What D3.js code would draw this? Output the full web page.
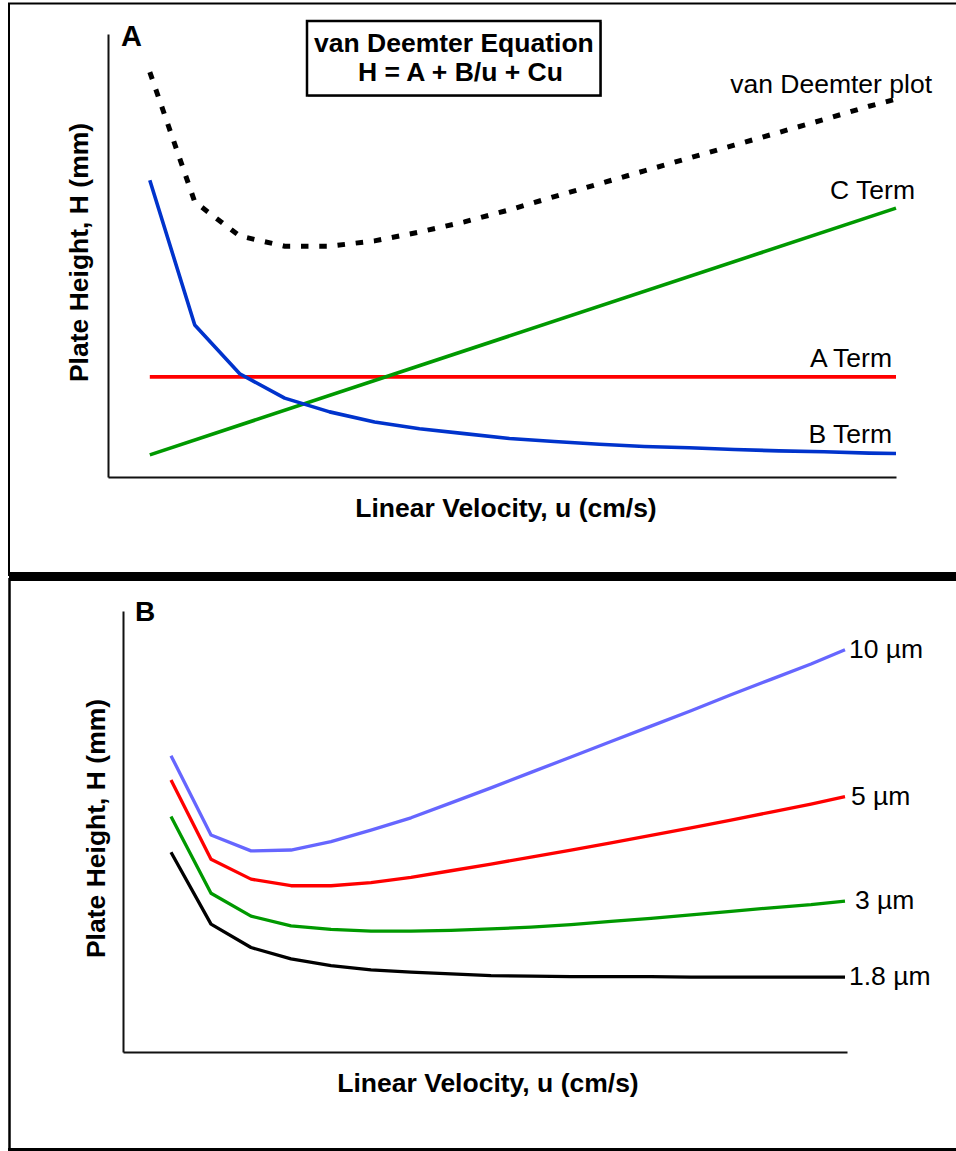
<!DOCTYPE html>
<html>
<head>
<meta charset="utf-8">
<script src="https://cdn.jsdelivr.net/npm/d3@7"></script>
<style>
  html, body { margin: 0; padding: 0; background: #fff; }
  svg { display: block; }
  text { font-family: "Liberation Sans", Arial, Helvetica, sans-serif; fill: #000; }
</style>
</head>
<body>
<svg id="chart" width="956" height="1151"></svg>
<script>
// ---- Panel A: terms of the van Deemter equation ----
const topVelocity   = [1, 2, 3, 4, 5, 6, 7, 8, 9, 10, 11, 12, 13, 14, 15, 16, 17, 17.6];
const bTermH        = [6.70, 3.43, 2.33, 1.78, 1.47, 1.24, 1.09, 0.98, 0.87, 0.80, 0.74, 0.69, 0.66, 0.62, 0.59, 0.57, 0.54, 0.53];
const vanDeemterH   = [9.14, 6.21, 5.44, 5.21, 5.21, 5.33, 5.53, 5.76, 6.03, 6.33, 6.62, 6.91, 7.20, 7.49, 7.78, 8.07, 8.37, 8.53];
const lineVelocity  = [1, 17.6];
const aTermH        = [2.26, 2.26];
const cTermH        = [0.50, 6.07];

// ---- Panel B: van Deemter curves for several particle sizes ----
const bottomVelocity = [1.2, 2.2, 3.2, 4.2, 5.2, 6.2, 7.2, 8.2, 9.2, 10.2, 11.2, 12.2, 13.2, 14.2, 15.2, 16.2, 17.2, 18.05];
const particleSizes  = ["10 µm", "5 µm", "3 µm", "1.8 µm"];
const h10um  = [6.72, 4.92, 4.56, 4.58, 4.77, 5.03, 5.31, 5.65, 5.99, 6.34, 6.69, 7.04, 7.39, 7.74, 8.10, 8.45, 8.80, 9.12];
const h5um   = [6.17, 4.37, 3.92, 3.77, 3.77, 3.84, 3.96, 4.11, 4.26, 4.42, 4.58, 4.74, 4.91, 5.08, 5.26, 5.44, 5.62, 5.79];
const h3um   = [5.34, 3.60, 3.08, 2.86, 2.78, 2.74, 2.74, 2.76, 2.79, 2.83, 2.89, 2.96, 3.03, 3.11, 3.19, 3.27, 3.34, 3.42];
const h1p8um = [4.53, 2.90, 2.37, 2.11, 1.96, 1.86, 1.81, 1.77, 1.73, 1.72, 1.71, 1.71, 1.71, 1.70, 1.70, 1.70, 1.70, 1.70];

const FONT = 26.5;
const svg = d3.select("#chart");
const zip = (xs, ys) => xs.map((x, i) => [x, ys[i]]);

// Panel frames
const frame = svg.append("g");
frame.append("line").attr("x1", 8).attr("x2", 956).attr("y1", 3.5).attr("y2", 3.5)
  .attr("stroke", "#000").attr("stroke-width", 2);
frame.append("line").attr("x1", 9).attr("x2", 9).attr("y1", 3).attr("y2", 576)
  .attr("stroke", "#000").attr("stroke-width", 2);
frame.append("rect").attr("x", 9).attr("y", 572).attr("width", 947).attr("height", 9).attr("fill", "#000");
frame.append("line").attr("x1", 9.5).attr("x2", 9.5).attr("y1", 578).attr("y2", 1151)
  .attr("stroke", "#000").attr("stroke-width", 2.5);
frame.append("rect").attr("x", 8).attr("y", 1148).attr("width", 948).attr("height", 3).attr("fill", "#000");

// ---------- Panel A ----------
const xA = d3.scaleLinear().domain([0.07, 17.6]).range([108, 896]);
const yA = d3.scaleLinear().domain([0, 10]).range([477, 34]);
const gA = svg.append("g");

gA.append("g").attr("transform", `translate(0,${yA(0)})`)
  .call(d3.axisBottom(xA).tickValues([]).tickSizeOuter(0))
  .call(g => g.select(".domain").attr("stroke", "#111").attr("stroke-width", 2));
gA.append("g").attr("transform", `translate(${xA.range()[0]},0)`)
  .call(d3.axisLeft(yA).tickValues([]).tickSizeOuter(0))
  .call(g => g.select(".domain").attr("stroke", "#111").attr("stroke-width", 2));

const lineA = d3.line().x(d => xA(d[0])).y(d => yA(d[1]));

gA.append("path").datum(zip(lineVelocity, aTermH)).attr("d", lineA)
  .attr("fill", "none").attr("stroke", "#ff0000").attr("stroke-width", 3.8);
gA.append("path").datum(zip(lineVelocity, cTermH)).attr("d", lineA)
  .attr("fill", "none").attr("stroke", "#009900").attr("stroke-width", 3.6);
gA.append("path").datum(zip(topVelocity, bTermH)).attr("d", lineA)
  .attr("fill", "none").attr("stroke", "#0033cc").attr("stroke-width", 3.6)
  .attr("stroke-linejoin", "round");
gA.append("path").datum(zip(topVelocity, vanDeemterH)).attr("d", lineA)
  .attr("fill", "none").attr("stroke", "#000").attr("stroke-width", 5)
  .attr("stroke-dasharray", "7.5,10.8");

const xEndA = xA(lineVelocity[1]);
const termLabels = gA.append("g").attr("font-size", FONT).attr("text-anchor", "end");
termLabels.append("text").attr("x", xEndA + 36).attr("y", yA(vanDeemterH[vanDeemterH.length - 1]) - 6).text("van Deemter plot");
termLabels.append("text").attr("x", xEndA + 19).attr("y", yA(cTermH[1]) - 9).text("C Term");
termLabels.append("text").attr("x", xEndA - 4).attr("y", yA(aTermH[1]) - 10).text("A Term");
termLabels.append("text").attr("x", xEndA - 4).attr("y", yA(bTermH[bTermH.length - 1]) - 11).text("B Term");

gA.append("text").attr("x", 121).attr("y", 46).attr("font-size", 29).attr("font-weight", "bold").text("A");

// Equation box
const eq = gA.append("g");
eq.append("rect").attr("x", 308).attr("y", 22).attr("width", 294).attr("height", 75).attr("fill", "#000").attr("opacity", 0.35);
eq.append("rect").attr("x", 307).attr("y", 21).attr("width", 293.5).attr("height", 74.5)
  .attr("fill", "#fff").attr("stroke", "#000").attr("stroke-width", 2.5);
eq.append("text").attr("x", 314).attr("y", 52).attr("font-size", FONT).attr("font-weight", "bold").text("van Deemter Equation");
eq.append("text").attr("x", 358).attr("y", 81).attr("font-size", FONT).attr("font-weight", "bold").text("H = A + B/u + Cu");

gA.append("text").attr("x", (xA.range()[0] + xA.range()[1]) / 2 + 4).attr("y", 517)
  .attr("text-anchor", "middle").attr("font-size", FONT).attr("font-weight", "bold")
  .text("Linear Velocity, u (cm/s)");
gA.append("text").attr("transform", `translate(88,${(yA.range()[0] + yA.range()[1]) / 2 - 3}) rotate(-90)`)
  .attr("text-anchor", "middle").attr("font-size", FONT).attr("font-weight", "bold")
  .text("Plate Height, H (mm)");

// ---------- Panel B ----------
const xB = d3.scaleLinear().domain([0, 18.1]).range([123, 847]);
const yB = d3.scaleLinear().domain([0, 10]).range([1052, 611]);
const gB = svg.append("g");

gB.append("g").attr("transform", `translate(0,${yB(0)})`)
  .call(d3.axisBottom(xB).tickValues([]).tickSizeOuter(0))
  .call(g => g.select(".domain").attr("stroke", "#111").attr("stroke-width", 2));
gB.append("g").attr("transform", `translate(${xB.range()[0]},0)`)
  .call(d3.axisLeft(yB).tickValues([]).tickSizeOuter(0))
  .call(g => g.select(".domain").attr("stroke", "#111").attr("stroke-width", 2));

const lineB = d3.line().x(d => xB(d[0])).y(d => yB(d[1]));
const seriesB = [
  { name: particleSizes[0], values: h10um,  color: "#6666ff", dx: 4 },
  { name: particleSizes[1], values: h5um,   color: "#ff0000", dx: 6 },
  { name: particleSizes[2], values: h3um,   color: "#009900", dx: 10 },
  { name: particleSizes[3], values: h1p8um, color: "#000000", dx: 4 }
];

seriesB.forEach(s => {
  gB.append("path").datum(zip(bottomVelocity, s.values)).attr("d", lineB)
    .attr("fill", "none").attr("stroke", s.color).attr("stroke-width", 3.3)
    .attr("stroke-linejoin", "round");
  const last = s.values.length - 1;
  gB.append("text")
    .attr("x", xB(bottomVelocity[last]) + s.dx)
    .attr("y", yB(s.values[last]) + 8)
    .attr("font-size", FONT)
    .text(s.name);
});

gB.append("text").attr("x", 135).attr("y", 621).attr("font-size", 28).attr("font-weight", "bold").text("B");

gB.append("text").attr("x", (xB.range()[0] + xB.range()[1]) / 2 + 3).attr("y", 1092)
  .attr("text-anchor", "middle").attr("font-size", FONT).attr("font-weight", "bold")
  .text("Linear Velocity, u (cm/s)");
gB.append("text").attr("transform", `translate(105,${(yB.range()[0] + yB.range()[1]) / 2 - 3}) rotate(-90)`)
  .attr("text-anchor", "middle").attr("font-size", FONT).attr("font-weight", "bold")
  .text("Plate Height, H (mm)");
</script>
</body>
</html>
